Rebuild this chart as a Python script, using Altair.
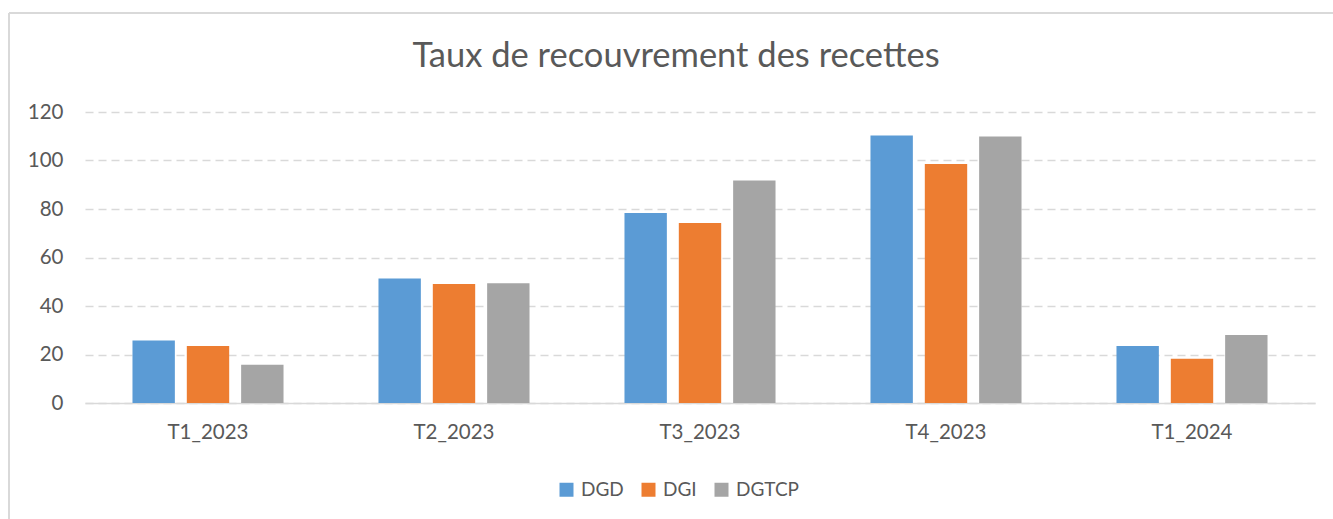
import altair as alt
import pandas as pd

categories = ["T1_2023", "T2_2023", "T3_2023", "T4_2023", "T1_2024"]
series = ["DGD", "DGI", "DGTCP"]
dgd = [25.8, 51.3, 78.4, 110.3, 23.5]
dgi = [23.5, 49.1, 74.2, 98.6, 18.2]
dgtcp = [15.8, 49.4, 91.8, 109.9, 28.0]
colors = ["#5B9BD5", "#ED7D31", "#A5A5A5"]
y_ticks = [0, 20, 40, 60, 80, 100, 120]

rows = []
for name, vals in zip(series, [dgd, dgi, dgtcp]):
    for c, v in zip(categories, vals):
        rows.append({"cat": c, "serie": name, "val": v})
df = pd.DataFrame(rows)

FONT = "Lato"
TXT = "#595959"

bars = alt.Chart(df).mark_bar().encode(
    x=alt.X("cat:N", sort=categories, title=None,
            scale=alt.Scale(paddingInner=0.386, paddingOuter=0.193),
            axis=alt.Axis(labelAngle=0, labelFontSize=20.5, labelColor=TXT, labelFont=FONT,
                          ticks=False, domainColor="#D9D9D9", domainWidth=1.5, labelPadding=19)),
    xOffset=alt.XOffset("serie:N", sort=series,
                        scale=alt.Scale(paddingInner=0.22, paddingOuter=0)),
    y=alt.Y("val:Q", title=None,
            scale=alt.Scale(domain=[0, 120], nice=False),
            axis=alt.Axis(values=y_ticks, labelFontSize=20.5, labelColor=TXT, labelFont=FONT,
                          ticks=False, domain=False, gridColor="#D9D9D9", gridDash=[8, 5],
                          gridWidth=1.3, labelPadding=22)),
    color=alt.Color("serie:N", sort=series, title=None,
                    scale=alt.Scale(domain=series, range=colors),
                    legend=alt.Legend(orient="none", legendX=472, legendY=368, direction="horizontal",
                                      symbolType="square", symbolSize=196, symbolStrokeWidth=0,
                                      labelFontSize=19, labelColor=TXT, labelFont=FONT,
                                      columnPadding=15, labelOffset=5)),
)

frame_top = alt.Chart(df).mark_rule(color="#D9D9D9", strokeWidth=2).encode(
    x=alt.value(-76), x2=alt.value(1300), y=alt.value(-99))
frame_left = alt.Chart(df).mark_rule(color="#D9D9D9", strokeWidth=2).encode(
    x=alt.value(-76), y=alt.value(-99), y2=alt.value(420))

chart = alt.layer(frame_top, frame_left, bars).properties(
    width=1230, height=291,
    autosize=alt.AutoSizeParams(type="none"),
    padding={"left": 85, "top": 112, "right": 18, "bottom": 116},
    title=alt.TitleParams("Taux de recouvrement des recettes", fontSize=34.5, font=FONT,
                          fontWeight="normal", color=TXT, anchor="middle", dx=-24, offset=-62),
).configure_view(stroke=None)

chart.save("out.html", embed_options={"renderer": "svg", "actions": False})
